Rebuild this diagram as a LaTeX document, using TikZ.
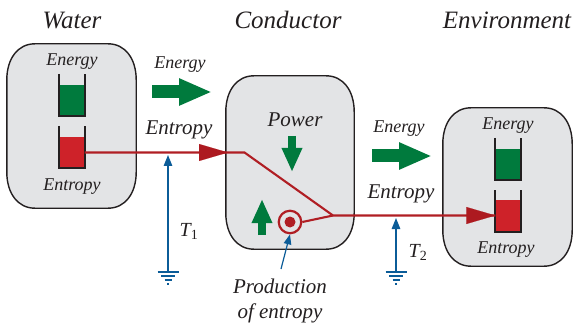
\documentclass[tikz,border=0pt]{standalone}
\usepackage{fontspec}
\setmainfont{Liberation Serif}
\usetikzlibrary{arrows.meta,calc}
\definecolor{grn}{HTML}{007A3D}
\definecolor{redf}{HTML}{CE2229}
\definecolor{redl}{HTML}{B01E24}
\definecolor{redh}{HTML}{AD1A20}
\definecolor{blu}{HTML}{0B5C98}
\definecolor{boxf}{HTML}{E3E4E6}
\definecolor{ink}{HTML}{231F20}
\tikzset{
 x=1pt,y=-1pt,
 chamber/.style={inner sep=0pt,minimum width=#1},
 chamberline/.style={draw=ink,line width=1.4pt,fill=boxf},
 txt/.style={anchor=base,inner sep=0pt,text=ink,font=\itshape\fontsize{#1}{#1}\selectfont},
 level/.style={fill=#1,inner sep=0pt,minimum width=25pt},
 wall/.style={draw=ink,line width=1.2pt},
 bigflow/.style={grn,line width=#1,-{Triangle[length=33pt,width=25pt]}},
 smallflow/.style={grn,line width=8pt,-{Triangle[length=24pt,width=19pt]}},
 entflow/.style={redl,line width=2.1pt,line join=miter},
 enthead/.style={redh,line width=0.1pt,-{Triangle[length=29pt,width=17pt]}},
 temp/.style={blu,line width=1.3pt,-{Triangle[length=11pt,width=8.5pt]}},
 gnd/.style={blu,line width=1.2pt},
}
\newcommand{\chamberoutline}[1]{%
 \draw[chamberline]
  ($(#1.north west)+(0,36)$) .. controls ($(#1.north west)+(0,15)$) and ($(#1.north west)+(11,0)$) .. ($(#1.north west)+(28,0)$)
  -- ($(#1.north east)+(-28,0)$) .. controls ($(#1.north east)+(-11,0)$) and ($(#1.north east)+(0,15)$) .. ($(#1.north east)+(0,36)$)
  -- ($(#1.south east)+(0,-36)$) .. controls ($(#1.south east)+(0,-15)$) and ($(#1.south east)+(-11,0)$) .. ($(#1.south east)+(-28,0)$)
  -- ($(#1.south west)+(28,0)$) .. controls ($(#1.south west)+(11,0)$) and ($(#1.south west)+(0,-15)$) .. ($(#1.south west)+(0,-36)$)
  -- cycle;}
\begin{document}
\begin{tikzpicture}
\useasboundingbox (0,0) rectangle (575,323);
% chambers
\node[chamber=129pt,minimum height=164pt] (water) at (71.5,126) {};
\node[chamber=128pt,minimum height=173pt] (cond) at (290,162.5) {};
\node[chamber=129pt,minimum height=158pt] (env) at (507.5,187) {};
\chamberoutline{water}
\chamberoutline{cond}
\chamberoutline{env}
% titles
\node[txt=25] (tw) at (72,29) {Water};
\node[txt=25] (tc) at (288,29) {Conductor};
\node[txt=25] (te) at (507,29) {Environment};
% beakers: water
\node[txt=18] (l1) at (72,66) {Energy};
\node[txt=18] (l2) at (72,190) {Entropy};
\node[level=grn,minimum height=31pt] (wE) at (72,100.5) {};
\node[level=redf,minimum height=31pt] (wS) at (72,152.5) {};
\draw[wall] (59,74) -- (59,116) -- (85,116) -- (85,74);
\draw[wall] (59,126) -- (59,168) -- (85,168) -- (85,126);
% beakers: environment
\node[txt=18] (l3) at (508,130) {Energy};
\node[txt=18] (l4) at (506,253) {Entropy};
\node[level=grn,minimum height=31pt] (eE) at (508,164.5) {};
\node[level=redf,minimum height=31pt] (eS) at (508,215.5) {};
\draw[wall] (495,138) -- (495,180) -- (521,180) -- (521,138);
\draw[wall] (495,190) -- (495,232) -- (521,232) -- (521,190);
% energy flows
\coordinate (g1a) at (152,92); \coordinate (g1b) at (212,92);
\coordinate (g2a) at (372,156); \coordinate (g2b) at (432,156);
\draw[bigflow=13pt] (g1a) -- (g1b);
\draw[bigflow=13pt] (g2a) -- (g2b);
\node[txt=18] (l5) at (180,69) {Energy};
\node[txt=21] (l6) at (179,135) {Entropy};
\node[txt=18] (l7) at (399,133) {Energy};
\node[txt=21] (l8) at (401,198) {Entropy};
\node[txt=21] (l9) at (295,127) {Power};
% power arrows
\coordinate (pa) at (292,136); \coordinate (pb) at (292,172);
\coordinate (qa) at (262,235); \coordinate (qb) at (262,199);
\draw[smallflow] (pa) -- (pb);
\draw[smallflow] (qa) -- (qb);
% entropy flow
\coordinate (bend) at (244.5,152.5);
\coordinate (junc) at (333,215.5);
\coordinate (h1a) at (198,152.5); \coordinate (h1b) at (228,152.5);
\coordinate (h2a) at (465,215.5);
\node[draw=redl,line width=2.2pt,circle,minimum size=22.5pt,inner sep=0pt] (src) at (290,222) {};
\node[fill=redl,circle,minimum size=11pt,inner sep=0pt] (dot) at (290,222) {};
\draw[entflow] (wS.east) -- (bend) -- (junc) -- (eS.west);
\draw[entflow] (src.east) -- (junc);
\draw[enthead] (h1a) -- (h1b);
\draw[enthead] (h2a) -- (eS.west);
% temperature leads
\coordinate (t1top) at (168,155); \coordinate (t1g) at (168,272);
\coordinate (t2top) at (396,218); \coordinate (t2g) at (396,272);
\draw[temp] (t1g) -- (t1top);
\draw[temp] (t2g) -- (t2top);
\foreach \g in {t1g,t2g}{
 \draw[gnd] ($(\g)+(-10.5,0)$) -- ($(\g)+(10.5,0)$);
 \draw[gnd] ($(\g)+(-7,4)$) -- ($(\g)+(7,4)$);
 \draw[gnd] ($(\g)+(-3.5,8)$) -- ($(\g)+(3.5,8)$);
 \draw[gnd] ($(\g)+(-1,12)$) -- ($(\g)+(1,12)$);
}
\node[txt=20] (T1) at (189,236) {T\textsubscript{\upshape 1}};
\node[txt=20] (T2) at (418,257) {T\textsubscript{\upshape 2}};
% production label
\node[txt=21] (pr) at (280,293) {Production};
\node[txt=21] (oe) at (280,318) {of entropy};
\coordinate (pt) at (281,269);
\draw[blu,line width=1.2pt,-{Triangle[length=10pt,width=7.5pt]}] (pt) -- (src.south);
\end{tikzpicture}
\end{document}
